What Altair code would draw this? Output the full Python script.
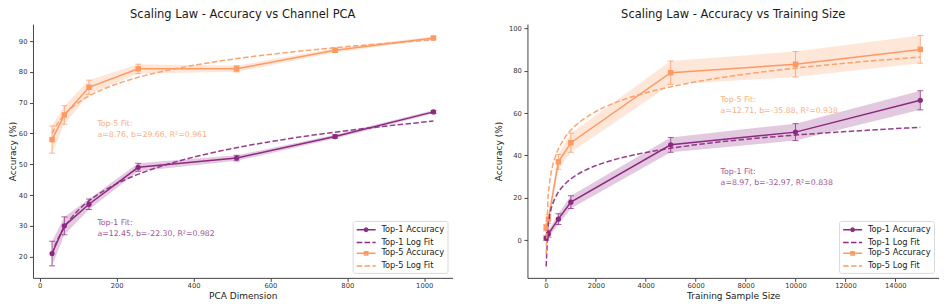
import altair as alt
import pandas as pd

# ---------------- data ----------------
pca_dims = [32, 64, 128, 256, 512, 768, 1024]
pca_top1 = [21, 30, 37, 49, 52, 59, 67]
pca_top1_err = [4.0, 2.9, 1.7, 1.3, 0.9, 0.6, 0.5]
pca_top5 = [58, 66, 75, 81, 81, 87, 91]
pca_top5_err = [4.4, 3.0, 2.3, 1.5, 1.0, 0.7, 0.5]

train_sizes = [10, 100, 500, 1000, 5000, 10000, 15000]
train_top1 = [1, 3, 10, 18, 45, 51, 66]
train_top1_err = [1.0, 1.5, 2.5, 3.0, 3.5, 4.0, 4.5]
train_top5 = [6, 10, 37, 46, 79, 83, 90]
train_top5_err = [1.5, 2.0, 3.5, 4.5, 5.5, 6.0, 6.5]

series_names = ["Top-1 Accuracy", "Top-1 Log Fit", "Top-5 Accuracy", "Top-5 Log Fit"]

pca_ann_x = [150, 150]
pca_ann_y = [31, 63]
pca_ann_text = ["Top-1 Fit:\na=12.45, b=-22.30, R²=0.982",
                "Top-5 Fit:\na=8.76, b=29.66, R²=0.961"]

train_ann_x = [7000, 7000]
train_ann_y = [32.3, 66.2]
train_ann_text = ["Top-1 Fit:\na=8.97, b=-32.97, R²=0.838",
                  "Top-5 Fit:\na=12.71, b=-35.88, R²=0.938"]

pca_x_ticks = [0, 200, 400, 600, 800, 1000]
pca_y_ticks = [20, 30, 40, 50, 60, 70, 80, 90]
train_x_ticks = [0, 2000, 4000, 6000, 8000, 10000, 12000, 14000]
train_y_ticks = [0, 20, 40, 60, 80, 100]

# ---------------- style ----------------
PURPLE = "#8c2981"
ORANGE = "#fd9a63"
FONT = "DejaVu Sans"

legend_paths = [
    "M-1,0H3M1.35,0A0.35,0.35 0 1,1 0.65,0A0.35,0.35 0 1,1 1.35,0Z",
    "M-1,0H3",
    "M-1,0H3M0.65,-0.35H1.35V0.35H0.65Z",
    "M-1,0H3",
]
legend_dashes = [[1, 0], [5.5, 2.4], [1, 0], [5.5, 2.4]]

# order used by the drawing (non-legend) scales
draw_order = [series_names[0], series_names[2], series_names[1], series_names[3]]


def legend_scale():
    return alt.Scale(domain=series_names, range=[PURPLE, PURPLE, ORANGE, ORANGE])


def draw_scale():
    return alt.Scale(domain=draw_order, range=[PURPLE, ORANGE, PURPLE, ORANGE])


def make_panel(xs, t1, t1e, t5, t5e, x_domain, y_domain, x_ticks, y_ticks,
               title, x_title, ann_x, ann_y, ann_text, width, height, ytp):
    rows = []
    for name, vals, errs in (("Top-1 Accuracy", t1, t1e), ("Top-5 Accuracy", t5, t5e)):
        for x, v, e in zip(xs, vals, errs):
            rows.append({"x": x, "y": v, "lo": v - e, "hi": v + e, "series": name})
    df = pd.DataFrame(rows)
    ann = pd.DataFrame({"x": ann_x, "y": ann_y, "text": ann_text,
                        "series": ["Top-1 Accuracy", "Top-5 Accuracy"]})

    X = alt.X("x:Q", scale=alt.Scale(domain=x_domain, nice=False, zero=False),
              axis=alt.Axis(values=x_ticks, format="d", title=x_title), title=x_title)

    def Yf(field):
        return alt.Y(field, type="quantitative",
                     scale=alt.Scale(domain=y_domain, nice=False, zero=False),
                     axis=alt.Axis(values=y_ticks, format="d", title="Accuracy (%)", titlePadding=ytp),
                     title="Accuracy (%)")

    Y = Yf("y")
    fill = alt.Fill("series:N", scale=draw_scale(), legend=None)
    stroke = alt.Stroke("series:N", scale=draw_scale(), legend=None)

    base = alt.Chart(df)
    band = base.mark_area(opacity=0.25).encode(x=X, y=Yf("lo"), y2="hi:Q", fill=fill)
    line = base.mark_line(strokeWidth=1.5).encode(x=X, y=Y, stroke=stroke)
    err_rule = base.mark_rule(strokeWidth=1, opacity=0.75).encode(
        x=X, y=Yf("lo"), y2="hi:Q", stroke=stroke)
    cap_lo = base.mark_tick(orient="horizontal", size=6, thickness=1, opacity=0.75).encode(
        x=X, y=Yf("lo"), fill=fill)
    cap_hi = base.mark_tick(orient="horizontal", size=6, thickness=1, opacity=0.75).encode(
        x=X, y=Yf("hi"), fill=fill)
    p1 = base.transform_filter("datum.series == 'Top-1 Accuracy'").mark_point(
        filled=True, shape="circle", size=28, opacity=1).encode(x=X, y=Y, fill=fill)
    p5 = base.transform_filter("datum.series == 'Top-5 Accuracy'").mark_point(
        filled=True, shape="square", size=30, opacity=1).encode(x=X, y=Y, fill=fill)
    fit = base.transform_regression(
        "x", "y", method="log", groupby=["series"], extent=[min(xs), max(xs)]
    ).transform_calculate(
        fit="replace(datum.series, 'Accuracy', 'Log Fit')"
    ).mark_line(strokeDash=[5.5, 2.4], strokeWidth=1.5, opacity=0.9).encode(
        x=X, y=Y, stroke=alt.Stroke("fit:N", scale=draw_scale(), legend=None))
    text = alt.Chart(ann).mark_text(align="left", baseline="middle", lineBreak="\n",
                                    lineHeight=11, fontSize=7.8, font=FONT, opacity=0.8).encode(
        x=X, y=Y, text="text:N", fill=fill)

    leg = alt.Legend(title=None, orient="bottom-right", offset=5, padding=3.3,
                     symbolSize=90, symbolStrokeWidth=1.5, labelFontSize=8.3,
                     labelOffset=14.5, rowPadding=1.8, strokeColor="#d9d9d9",
                     fillColor="white", cornerRadius=2, labelFont=FONT, labelColor="#222")
    legend_layer = base.transform_filter("false").mark_point(
        filled=False, size=90, strokeWidth=1.5, opacity=1).encode(
        x=X, y=Y,
        color=alt.Color("series:N", scale=legend_scale(), legend=leg),
        shape=alt.Shape("series:N", scale=alt.Scale(domain=series_names, range=legend_paths), legend=leg),
        strokeDash=alt.StrokeDash("series:N", scale=alt.Scale(domain=series_names, range=legend_dashes), legend=leg),
    )

    return alt.layer(band, line, err_rule, cap_lo, cap_hi, p1, p5, fit, text, legend_layer).properties(
        width=width, height=height, title=title)


left = make_panel(pca_dims, pca_top1, pca_top1_err, pca_top5, pca_top5_err,
                  [-17.6, 1073.6], [13.1, 95.5], pca_x_ticks, pca_y_ticks,
                  "Scaling Law - Accuracy vs Channel PCA", "PCA Dimension",
                  pca_ann_x, pca_ann_y, pca_ann_text, 420, 254, 1)
right = make_panel(train_sizes, train_top1, train_top1_err, train_top5, train_top5_err,
                   [-739.5, 15749.5], [-17.7, 101.9], train_x_ticks, train_y_ticks,
                   "Scaling Law - Accuracy vs Training Size", "Training Sample Size",
                   train_ann_x, train_ann_y, train_ann_text, 412, 254, 5)

chart = alt.hconcat(left, right, spacing=42).resolve_scale(
    color="independent", shape="independent", strokeDash="independent",
    fill="independent", stroke="independent"
).resolve_legend(
    color="independent", shape="independent", strokeDash="independent",
    fill="independent", stroke="independent"
).properties(
    padding={"left": 0, "top": 0, "right": 0, "bottom": 0}
).configure_view(stroke=None).configure_axis(
    grid=False, domainColor="#444", domainWidth=1, tickColor="#444", tickSize=3.5,
    tickWidth=1, labelFontSize=6.8, labelColor="#333", labelFont=FONT,
    titleFont=FONT, titleFontSize=9, titleFontWeight="normal", titleColor="#222"
).configure_axisX(labelPadding=1, titlePadding=2).configure_axisY(labelPadding=2.5).configure_title(
    font=FONT, fontSize=11.5, fontWeight="normal", color="#1a1a1a", offset=0, anchor="middle"
)

chart.save("out.html", embed_options={"renderer": "svg", "actions": False})
